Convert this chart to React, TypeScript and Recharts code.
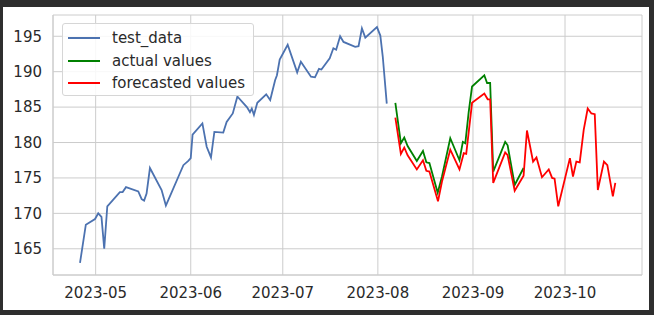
import React from "react";
import { LineChart, Line, XAxis, YAxis, CartesianGrid, ReferenceArea } from "recharts";

// x positions are days since 2023-05-01
const tickDays = [0, 31, 61, 92, 123, 153];
const tickLabels = ["2023-05", "2023-06", "2023-07", "2023-08", "2023-09", "2023-10"];
const yTicks = [165, 170, 175, 180, 185, 190, 195];

const seriesNames = ["test_data", "actual values", "forecasted values"];
const seriesColors = ["#4c72b0", "#008000", "#ff0000"];

const testDays = [-5.1, -3.2, -0.2, 0.85, 1.9, 2.8, 3.8, 7.9, 8.8, 9.9, 13.9, 15.0, 15.8, 16.6, 17.7, 21.5, 22.9, 24.2, 27.5, 28.6, 30.2, 31.0, 31.6, 34.8, 36.2, 37.6, 38.7, 41.6, 42.7, 44.7, 46.2, 49.3, 50.3, 50.9, 51.6, 52.7, 55.6, 56.9, 58.5, 59.1, 60.0, 62.6, 65.7, 66.9, 70.2, 71.5, 72.8, 73.6, 76.3, 77.5, 78.4, 79.7, 80.8, 84.6, 85.7, 86.8, 87.9, 91.7, 92.8, 93.6, 94.9];
const testVals = [163.0, 168.4, 169.2, 170.0, 169.5, 165.0, 171.0, 173.0, 173.0, 173.7, 173.1, 172.0, 171.8, 172.8, 176.4, 173.3, 171.1, 172.4, 175.7, 176.8, 177.4, 177.8, 181.1, 182.7, 179.4, 177.9, 181.5, 181.4, 182.9, 184.1, 186.5, 185.0, 184.3, 184.8, 183.9, 185.6, 186.8, 186.0, 188.8, 189.5, 191.7, 193.8, 189.9, 191.4, 189.3, 189.2, 190.4, 190.3, 191.9, 193.3, 193.1, 195.0, 194.2, 193.5, 193.6, 196.1, 194.8, 196.3, 195.1, 192.1, 185.5];

const actualDays = [97.7, 99.5, 100.6, 101.7, 104.7, 106.7, 107.8, 108.8, 111.5, 112.9, 115.6, 118.6, 119.7, 120.5, 121.6, 122.7, 126.7, 127.6, 128.6, 129.6, 133.5, 134.3, 136.6, 139.5];
const actualVals = [185.6, 179.9, 180.7, 179.5, 177.4, 178.8, 177.2, 177.1, 172.9, 175.2, 180.6, 177.5, 180.1, 179.9, 184.3, 187.9, 189.5, 188.4, 188.4, 175.9, 180.1, 179.6, 174.0, 176.4];

const forecastDays = [97.7, 99.5, 100.6, 101.7, 104.7, 106.7, 107.8, 108.8, 111.6, 112.9, 115.6, 118.6, 120.0, 120.8, 122.7, 126.7, 127.8, 128.6, 129.6, 133.5, 134.3, 136.6, 139.5, 140.6, 142.6, 143.7, 145.5, 147.7, 148.8, 149.6, 150.8, 154.6, 155.6, 156.7, 157.8, 159.1, 160.4, 161.6, 162.7, 163.7, 165.7, 166.8, 168.6, 169.4];
const forecastVals = [183.5, 178.4, 179.3, 178.2, 176.2, 177.5, 176.0, 175.9, 171.7, 174.5, 179.0, 176.2, 178.5, 178.4, 185.6, 186.9, 186.1, 186.1, 174.3, 178.6, 178.2, 173.2, 175.3, 181.7, 177.3, 177.9, 175.1, 176.2, 175.0, 174.9, 171.0, 177.8, 175.2, 177.3, 177.2, 181.8, 184.8, 184.1, 184.0, 173.3, 177.3, 176.8, 172.4, 174.3];

const zip = (d: number[], v: number[]) => d.map((x, i) => ({ d: x, v: v[i] }));
const testData = zip(testDays, testVals);
const actualData = zip(actualDays, actualVals);
const forecastData = zip(forecastDays, forecastVals);

const FONT = "'DejaVu Sans', sans-serif";
const TEXT = "#2a2a2a";
const GRID = "#cccccc";

export default function App() {
  return (
    <div style={{ position: "fixed", left: 0, top: 0, width: 654, height: 315, background: "#2e2e2e", overflow: "hidden" }}>
      <div style={{ position: "absolute", left: 3, top: 7, width: 646, height: 303, background: "#ffffff" }} />
      <div style={{ position: "absolute", left: 0, top: 0 }}>
        <LineChart width={654} height={315} margin={{ top: 15, right: 12, bottom: 0, left: 0 }}>
          <CartesianGrid stroke={GRID} strokeWidth={1} />
          <XAxis
            dataKey="d"
            type="number"
            domain={[-13.9, 178.1]}
            ticks={tickDays}
            tickFormatter={(v: number) => tickLabels[tickDays.indexOf(v)] ?? ""}
            height={40}
            tickLine={false}
            tickSize={6}
            tickMargin={6}
            axisLine={{ stroke: GRID }}
            tick={{ fill: TEXT, fontSize: 15, fontFamily: FONT }}
            allowDataOverflow
          />
          <YAxis
            type="number"
            domain={[161.3, 198.0]}
            ticks={yTicks}
            width={53}
            tickLine={false}
            tickSize={6}
            tickMargin={5}
            axisLine={{ stroke: GRID }}
            tick={{ fill: TEXT, fontSize: 15, fontFamily: FONT }}
            allowDataOverflow
          />
          <ReferenceArea fill="none" stroke={GRID} strokeWidth={1} />
          <Line data={testData} dataKey="v" name={seriesNames[0]} stroke={seriesColors[0]} strokeWidth={1.8} dot={false} isAnimationActive={false} />
          <Line data={actualData} dataKey="v" name={seriesNames[1]} stroke={seriesColors[1]} strokeWidth={1.8} dot={false} isAnimationActive={false} />
          <Line data={forecastData} dataKey="v" name={seriesNames[2]} stroke={seriesColors[2]} strokeWidth={1.8} dot={false} isAnimationActive={false} />
        </LineChart>
      </div>
      <div
        style={{
          position: "absolute",
          left: 62,
          top: 23,
          width: 192,
          height: 73,
          boxSizing: "border-box",
          background: "rgba(255,255,255,0.85)",
          border: "1px solid #d6d6d6",
          borderRadius: 3,
          fontFamily: FONT,
          fontSize: 15,
          color: TEXT,
        }}
      >
        {seriesNames.map((n, i) => (
          <div key={n} style={{ position: "absolute", left: 0, top: 3 + i * 22.5, height: 22, display: "flex", alignItems: "center", whiteSpace: "nowrap" }}>
            <div style={{ marginLeft: 5, width: 32, height: 2, background: seriesColors[i] }} />
            <span style={{ marginLeft: 12, lineHeight: "22px" }}>{n}</span>
          </div>
        ))}
      </div>
    </div>
  );
}
